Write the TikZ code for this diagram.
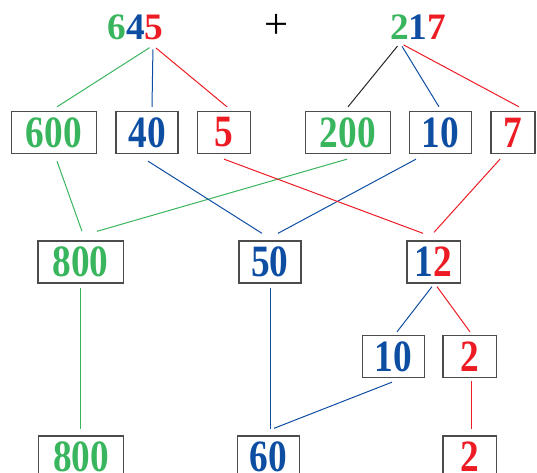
\documentclass[tikz,border=0pt]{standalone}
\usepackage{fontspec}
\setmainfont{Liberation Serif}
\usepackage{graphicx}
\usetikzlibrary{calc}

\definecolor{sumgreen}{RGB}{57,181,94}
\definecolor{sumblue}{RGB}{14,78,162}
\definecolor{sumred}{RGB}{237,28,36}

\newcommand{\boxnum}[1]{\scalebox{1}[1.2]{#1}}

\begin{document}
\begin{tikzpicture}[
    x=0.75pt, y=-0.75pt,
    font=\fontsize{28}{31}\selectfont\bfseries,
    numbox/.style={draw=black!70, line width=1pt, inner sep=0pt, minimum height=31.5pt},
    wide/.style={numbox, minimum width=64pt},
    mid/.style={numbox, minimum width=46.5pt},
    slim/.style={numbox, minimum width=40pt},
    gline/.style={draw=sumgreen, line width=0.75pt},
    bline/.style={draw=sumblue, line width=0.75pt},
    rline/.style={draw=sumred, line width=0.75pt},
    kline/.style={draw=black!85, line width=0.75pt}
  ]
  \useasboundingbox (0,0) rectangle (537,473);

  % the two addends
  \node[inner sep=0pt] (top645) at (135.5,27.5)
    {\textcolor{sumgreen}{6}\textcolor{sumblue}{4}\textcolor{sumred}{5}};
  \node[inner sep=0pt, font=\fontsize{32}{34}\selectfont] (plus) at (277,26) {+};
  \node[inner sep=0pt] (top217) at (418,27.5)
    {\textcolor{sumgreen}{2}\textcolor{sumblue}{1}\textcolor{sumred}{7}};
  \coordinate (fork645) at (153,45.5);
  \coordinate (fork217) at (400,43);

  % place values
  \node[wide, text=sumgreen] (b600) at (54,132.5) {\boxnum{600}};
  \node[mid, text=sumblue] (b40) at (147,132.5) {\boxnum{40}};
  \node[slim, text=sumred] (b5) at (224,132.5) {\boxnum{5}};
  \node[wide, text=sumgreen] (b200) at (348,132.5) {\boxnum{200}};
  \node[mid, text=sumblue] (b10) at (440.5,132.5) {\boxnum{10}};
  \node[numbox, minimum width=33pt, text=sumred] (b7) at (513,132.5) {\boxnum{7}};

  % sums of each place
  \node[wide, text=sumgreen] (b800) at (80.5,262) {\boxnum{800}};
  \node[mid, text=sumblue] (b50) at (270,262) {\boxnum{50}};
  \node[slim] (b12) at (433.5,262)
    {\boxnum{\textcolor{sumblue}{1}\textcolor{sumred}{2}}};

  % regrouping of 12
  \node[mid, text=sumblue] (part10) at (393.5,356.5) {\boxnum{10}};
  \node[slim, text=sumred] (part2) at (469.5,356.5) {\boxnum{2}};

  % result
  \node[wide, text=sumgreen] (res800) at (81,457) {\boxnum{800}};
  \node[mid, text=sumblue] (res60) at (268.5,457) {\boxnum{60}};
  \node[slim, text=sumred] (res2) at (469.5,457) {\boxnum{2}};

  % splitting the addends
  \draw[gline, shorten <=3] (fork645) -- ($(b600.north)+(3,-4)$);
  \draw[bline, shorten <=3] (fork645) -- ($(b40.north)+(5,-4)$);
  \draw[rline, shorten <=3] (fork645) -- ($(b5.north)+(3,-4)$);
  \draw[kline, shorten <=3] (fork217) -- ($(b200.north)+(0,-4)$);
  \draw[bline, shorten <=3] (fork217) -- ($(b10.north)+(-1.5,-4)$);
  \draw[rline, shorten <=3] (fork217) -- ($(b7.north)+(6,-4)$);

  % adding place by place
  \draw[gline] ($(b600.south)+(3,7)$) -- ($(b800.north)+(1.5,-9)$);
  \draw[gline] ($(b200.south)+(-1,5)$) -- ($(b800.north)+(16.5,-9)$);
  \draw[bline] ($(b40.south)+(1,7)$) -- ($(b50.north)+(-8,-7)$);
  \draw[bline] ($(b10.south)+(-24.5,5)$) -- ($(b50.north)+(8,-7)$);
  \draw[rline] ($(b5.south)+(0,5)$) -- ($(b12.north)+(-10.5,-7)$);
  \draw[rline] ($(b7.south)+(-13,5)$) -- ($(b12.north)+(0.5,-8)$);

  \draw[bline] ($(b12.south)+(-1.5,3)$) -- ($(part10.north)+(3.5,-3)$);
  \draw[rline] ($(b12.south)+(3.5,3)$) -- ($(part2.north)+(0.5,-3)$);

  \draw[gline] ($(b800.south)+(-0.5,4)$) -- ($(res800.north)+(-1,-6)$);
  \draw[bline] ($(b50.south)+(0,4)$) -- ($(res60.north)+(1.5,-6)$);
  \draw[bline] ($(part10.south)+(-1.5,4)$) -- ($(res60.north)+(5.5,-7)$);
  \draw[rline] ($(part2.south)+(1.5,3)$) -- ($(res2.north)+(1.5,-6)$);
\end{tikzpicture}
\end{document}
